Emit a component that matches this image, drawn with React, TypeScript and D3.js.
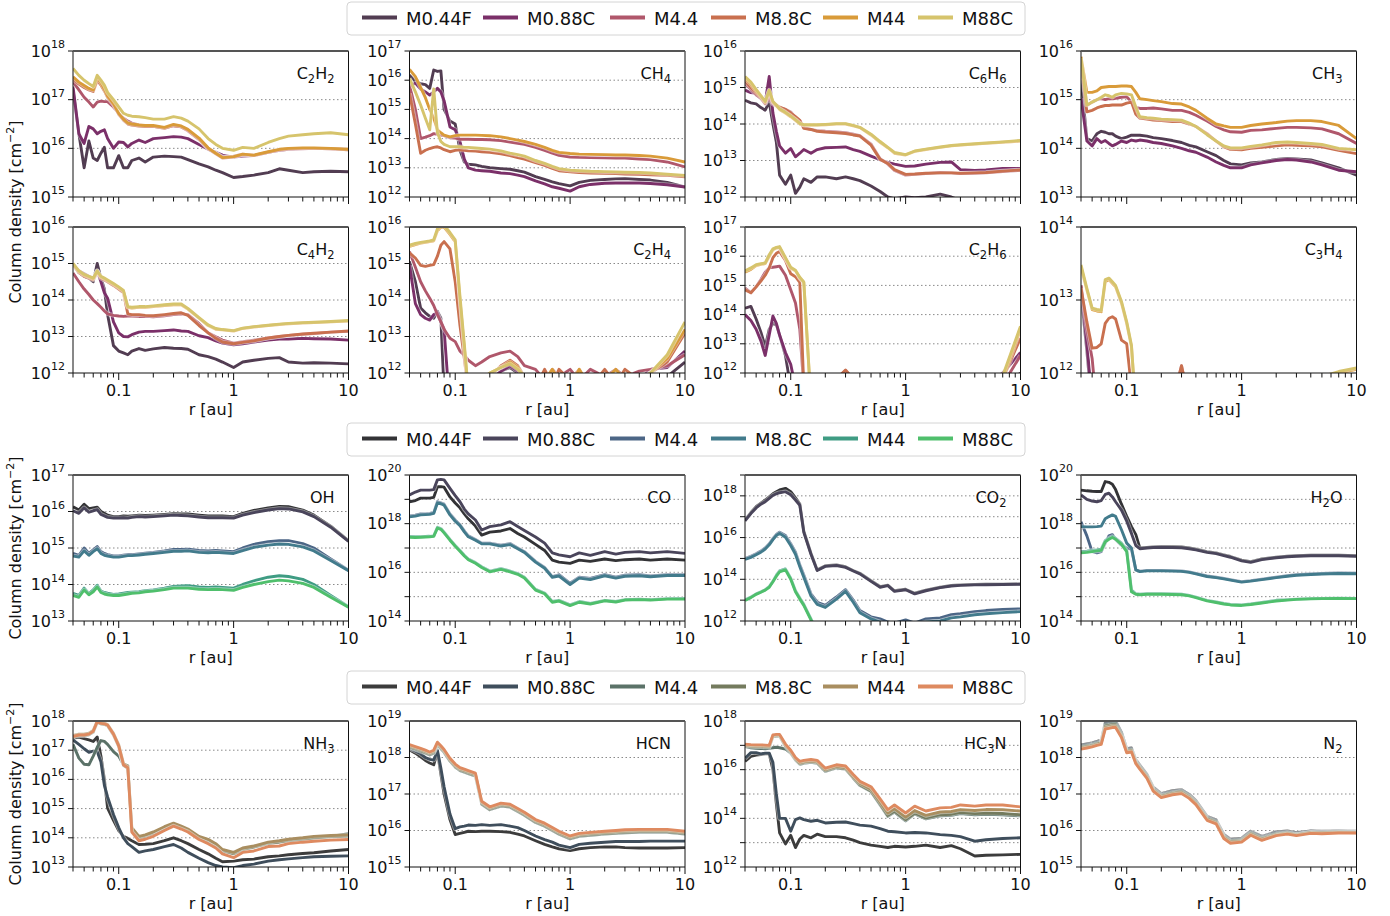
import React from "react";
import * as d3 from "d3";

// ---------- shared data ----------
const R = [0.04, 0.045, 0.05, 0.055, 0.06, 0.065, 0.07, 0.075, 0.08, 0.09, 0.1, 0.11, 0.12, 0.13, 0.15, 0.17, 0.2, 0.25, 0.3, 0.35, 0.4, 0.5, 0.6, 0.7, 0.8, 1.0, 1.2, 1.5, 2, 2.5, 3, 4, 5, 7, 10];
const MODELS = ["M0.44F", "M0.88C", "M4.4", "M8.8C", "M44", "M88C"];
const COLORS_HC = ["#523d52", "#7b3069", "#b0576b", "#c9704f", "#d99b39", "#d6c46c"];
const COLORS_O = ["#333336", "#4a455b", "#4c6686", "#427b8c", "#3f9c83", "#4fbf6c"];
const COLORS_N = ["#3c3c3c", "#3f4e5c", "#5b7268", "#747b5e", "#a98e60", "#de8a60"];
const X_MAJOR = [0.1, 1, 10];
const X_MAJOR_LABELS = ["0.1", "1", "10"];

// ---------- row 1 ----------
const c2h2_a = [17.2,16.3,15.6,16.15,15.8, 15.75,15.9,16.02,15.6,15.6, 15.85,15.6,15.6,15.75,15.8, 15.72,15.82,15.84,15.83,15.82, 15.77,15.68,15.62,15.55,15.5, 15.4,15.42,15.45,15.5,15.58, 15.55,15.5,15.52,15.53,15.52];
const c2h2_b = [17.27,16.3,16.1,16.45,16.4, 16.3,16.35,16.38,16.2,16.0, 16.13,16.12,16.03,16.1,16.17, 16.12,16.2,16.22,16.24,16.23, 16.2,16.08,15.98,15.92,15.86, 15.82,15.84,15.85,15.92,15.96, 15.98,16.0,16.0,16.0,15.98];
const c2h2_c = [17.37,17.2,17.05,16.95,16.85, 16.95,16.97,16.96,16.96,16.85, 16.72,16.62,16.56,16.52,16.48, 16.46,16.45,16.42,16.46,16.44, 16.36,16.18,16.0,15.9,15.82, 15.84,15.88,15.86,15.92,15.96, 15.98,15.99,16.0,15.99,15.97];
const c2h2_d = [17.42,17.32,17.25,17.2,17.17, 17.4,17.3,17.18,17.05,16.9, 16.7,16.58,16.5,16.48,16.46, 16.45,16.45,16.41,16.47,16.44, 16.37,16.19,15.99,15.89,15.8, 15.82,15.87,15.85,15.92,15.97, 15.99,16.0,16.0,15.99,15.97];
const c2h2_e = [17.47,17.36,17.29,17.23,17.2, 17.45,17.35,17.22,17.08,16.92, 16.72,16.6,16.52,16.5,16.48, 16.47,16.47,16.43,16.49,16.46, 16.39,16.21,16.01,15.9,15.81, 15.83,15.88,15.86,15.93,15.98, 16.0,16.01,16.01,16.0,15.98];
const c2h2_f = [17.64,17.5,17.4,17.33,17.27, 17.5,17.4,17.3,17.15,17.0, 16.85,16.72,16.68,16.66,16.65, 16.63,16.6,16.6,16.65,16.62, 16.56,16.4,16.2,16.08,16.0, 15.96,16.02,16.0,16.12,16.2, 16.25,16.28,16.3,16.32,16.28];

const ch4_a = [16.18,15.95,15.88,15.85,15.72, 16.35,16.3,16.32,15.0,14.6, 14.5,13.6,13.2,13.12,13.1, 13.05,13.0,12.97,12.95,12.9, 12.85,12.7,12.6,12.52,12.46, 12.38,12.5,12.57,12.6,12.62, 12.63,12.6,12.58,12.5,12.34];
const ch4_b = [15.78,15.9,15.7,15.6,15.49, 15.6,15.72,15.6,15.3,14.4, 14.3,13.9,13.3,13.0,12.92, 12.9,12.88,12.82,12.8,12.75, 12.7,12.55,12.45,12.35,12.3, 12.2,12.35,12.43,12.47,12.48, 12.48,12.48,12.46,12.42,12.34];
const ch4_c = [15.83,15.0,14.0,14.05,14.1, 14.17,14.15,14.12,14.1,14.03, 14.02,13.98,13.98,13.98,13.97, 13.97,13.96,13.93,13.88,13.84, 13.8,13.7,13.6,13.5,13.43, 13.37,13.36,13.35,13.34,13.33, 13.33,13.3,13.28,13.2,13.03];
const ch4_d = [15.55,14.5,13.5,13.6,13.66, 13.7,13.72,13.68,13.62,13.55, 13.6,13.62,13.6,13.58,13.57, 13.55,13.53,13.48,13.42,13.35, 13.3,13.18,13.08,12.98,12.9, 12.86,12.84,12.82,12.81,12.8, 12.79,12.78,12.76,12.74,12.69];
const ch4_e = [16.37,16.12,15.75,15.4,15.0, 14.7,14.3,14.2,14.12,14.06, 14.1,14.12,14.12,14.12,14.12, 14.11,14.1,14.06,14.0,13.95, 13.9,13.8,13.7,13.6,13.53, 13.49,13.47,13.46,13.45,13.44, 13.44,13.42,13.4,13.33,13.2];
const ch4_f = [16.06,15.6,15.15,14.7,14.3, 15.7,14.2,13.9,13.8,13.72, 13.72,13.72,13.7,13.7,13.68, 13.66,13.64,13.58,13.5,13.45, 13.4,13.25,13.15,13.05,12.97, 12.92,12.9,12.88,12.87,12.86, 12.85,12.84,12.82,12.78,12.74];

const c6h6_a = [14.65,14.58,14.55,14.45,14.38, 14.6,14.0,13.5,12.6,12.35, 12.6,12.1,12.27,12.5,12.4, 12.55,12.55,12.5,12.55,12.5, 12.45,12.3,12.15,12.0,11.95, 12.0,11.98,12.0,12.08,12.0, 11.9,11.85,11.8,11.75,11.7];
const c6h6_b = [14.93,14.86,14.84,14.7,14.6, 15.3,14.3,13.8,13.4,13.2, 13.33,13.1,13.2,13.3,13.2, 13.3,13.35,13.36,13.37,13.3, 13.25,13.12,13.02,12.95,12.9, 12.84,12.85,12.9,12.95,12.96, 12.75,12.73,12.74,12.78,12.78];
const c6h6_c = [15.11,14.95,14.8,14.7,14.55, 14.7,14.55,14.5,14.45,14.4, 14.33,14.18,14.1,13.9,13.85, 13.82,13.8,13.78,13.76,13.72, 13.68,13.45,13.05,12.9,12.73, 12.6,12.62,12.64,12.67,12.66, 12.64,12.65,12.66,12.7,12.73];
const c6h6_d = [15.18,15.0,14.85,14.72,14.57, 14.8,14.58,14.52,14.46,14.4, 14.3,14.2,14.1,13.88,13.85, 13.8,13.78,13.76,13.74,13.7, 13.67,13.42,13.03,12.92,12.75, 12.62,12.63,12.65,12.66,12.66, 12.65,12.66,12.67,12.71,12.74];
const c6h6_e = [15.25,15.1,14.9,14.75,14.6, 14.9,14.6,14.5,14.4,14.3, 14.2,14.1,14.0,13.97,13.97, 13.97,13.98,14.0,14.0,13.95, 13.9,13.7,13.5,13.35,13.2, 13.15,13.25,13.3,13.36,13.4, 13.42,13.45,13.47,13.5,13.53];
const c6h6_f = [15.3,15.15,14.95,14.78,14.62, 14.93,14.62,14.52,14.42,14.32, 14.22,14.12,14.02,13.98,13.98, 13.98,13.99,14.01,14.01,13.96, 13.91,13.72,13.52,13.36,13.22, 13.16,13.26,13.31,13.37,13.41, 13.43,13.46,13.48,13.51,13.55];

const ch3_a = [15.4,14.2,14.15,14.3,14.35, 14.33,14.3,14.3,14.25,14.2, 14.23,14.27,14.27,14.27,14.25, 14.22,14.2,14.16,14.12,14.06, 14.03,13.93,13.85,13.75,13.68, 13.66,13.7,13.72,13.77,13.79, 13.78,13.76,13.7,13.6,13.45];
const ch3_b = [15.03,14.15,14.05,14.2,14.12, 14.16,14.1,14.05,14.08,14.15, 14.12,14.17,14.15,14.17,14.15, 14.12,14.1,14.05,14.0,13.95, 13.92,13.82,13.72,13.65,13.6, 13.6,13.66,13.7,13.75,13.77, 13.76,13.72,13.66,13.55,13.52];
const ch3_c = [15.81,14.88,14.95,15.0,15.02, 15.0,15.02,15.02,15.03,15.05, 15.06,14.95,14.84,14.82,14.82, 14.83,14.81,14.78,14.78,14.74, 14.68,14.56,14.45,14.38,14.34, 14.33,14.37,14.38,14.41,14.43, 14.43,14.42,14.4,14.3,14.1];
const ch3_d = [15.75,14.75,14.78,14.83,14.86, 14.88,14.88,14.89,14.89,14.89, 14.93,14.95,14.7,14.62,14.6, 14.58,14.57,14.55,14.55,14.5, 14.45,14.3,14.15,14.03,13.98, 13.97,14.0,14.02,14.05,14.07, 14.06,14.05,14.03,13.96,13.89];
const ch3_e = [15.88,15.15,15.15,15.18,15.25, 15.26,15.27,15.27,15.27,15.28, 15.28,15.27,15.15,15.02,15.0, 14.98,14.96,14.92,14.91,14.85, 14.78,14.62,14.5,14.46,14.43, 14.43,14.47,14.5,14.53,14.56, 14.57,14.57,14.55,14.47,14.2];
const ch3_f = [15.85,14.89,14.95,15.0,15.05, 15.1,15.08,15.05,15.1,15.13, 15.12,15.1,14.85,14.65,14.63, 14.62,14.6,14.59,14.58,14.52, 14.45,14.28,14.15,14.05,14.01, 14.01,14.04,14.07,14.12,14.13, 14.12,14.1,14.08,14.0,13.97];

// ---------- row 2 ----------
const c4h2_a = [14.97,14.75,14.65,14.6,14.5, 15.0,14.6,14.3,13.6,12.75, 12.6,12.55,12.5,12.6,12.67, 12.62,12.66,12.7,12.68,12.67, 12.65,12.5,12.45,12.38,12.3, 12.15,12.3,12.35,12.4,12.42, 12.3,12.27,12.28,12.27,12.25];
const c4h2_b = [14.97,14.8,14.72,14.65,14.6, 14.8,14.5,14.2,14.05,13.4, 13.1,13.0,12.99,13.05,13.12, 13.14,13.14,13.16,13.18,13.15, 13.14,13.02,12.97,12.88,12.82, 12.77,12.8,12.85,12.9,12.93, 12.93,12.95,12.94,12.93,12.9];
const c4h2_c = [14.74,14.5,14.3,14.15,14.0, 13.9,13.8,13.7,13.62,13.58, 13.56,13.55,13.56,13.56,13.55, 13.55,13.54,13.57,13.6,13.62, 13.6,13.35,13.1,12.99,12.9, 12.82,12.86,12.9,12.96,13.0, 13.03,13.06,13.08,13.12,13.14];
const c4h2_d = [14.97,14.75,14.65,14.6,14.55, 14.75,14.6,14.55,14.5,14.4, 14.3,14.2,13.62,13.6,13.6, 13.58,13.57,13.6,13.63,13.65, 13.58,13.3,13.1,12.95,12.85, 12.8,12.84,12.88,12.96,13.0, 13.03,13.07,13.09,13.12,13.15];
const c4h2_e = [14.98,14.78,14.68,14.63,14.58, 14.78,14.63,14.58,14.53,14.43, 14.34,14.24,13.8,13.78,13.8, 13.8,13.82,13.85,13.87,13.87, 13.75,13.5,13.3,13.2,13.18, 13.15,13.22,13.26,13.3,13.33, 13.35,13.37,13.38,13.4,13.42];
const c4h2_f = [15.0,14.8,14.7,14.65,14.6, 14.8,14.65,14.6,14.55,14.45, 14.36,14.26,13.82,13.8,13.82, 13.82,13.84,13.87,13.89,13.89, 13.77,13.52,13.32,13.22,13.19, 13.16,13.23,13.27,13.31,13.34, 13.36,13.38,13.39,13.41,13.44];

const c2h4_a = [15.06,14.5,13.78,13.65,13.55, 13.5,13.69,13.5,11.5,11, 11,11,11,11,11, 11.5,11.8,12.05,12.15,12.0, 11.8,11.5,11.5,11.5,11.5, 11.5,11.5,11.5,11.5,11.5, 11.5,11.5,11.7,11.9,12.3];
const c2h4_b = [14.95,13.9,13.6,13.5,13.45, 13.6,13.65,13.4,13.2,11, 11,11,11,11,11, 11.5,11.8,12.05,12.2,12.05, 11.8,11.5,11.6,11.5,11.7, 11.5,11.6,11.5,11.5,11.6, 11.5,11.8,12.1,12.15,12.6];
const c2h4_c = [15.33,14.9,14.5,14.25,14.05, 13.85,13.6,13.4,13.2,12.95, 12.86,12.6,12.49,12.35,12.2, 12.3,12.45,12.55,12.6,12.45, 12.2,12.1,11.8,12.1,11.9, 12.1,11.8,12.1,11.9,12.1, 11.9,12.05,12.1,12.2,12.5];
const c2h4_d = [15.29,15.15,14.95,14.92,14.95, 14.97,15.2,15.5,15.6,15.4, 14.5,13.3,12.4,11.5,11.5, 11.7,11.9,12.2,12.35,12.2, 11.9,11.6,12.1,11.7,12.1, 11.8,12.1,11.6,12.1,11.7, 12.1,11.8,12.0,12.3,13.1];
const c2h4_e = [15.47,15.52,15.56,15.58,15.6, 15.62,15.9,16.0,16.0,15.8, 15.6,14.0,12.7,11.5,11.6, 11.8,12.0,12.15,12.3,12.15, 11.9,11.6,11.8,12.1,11.8, 11.6,12.1,11.6,11.8,12.1, 11.8,11.8,12.0,12.4,13.2];
const c2h4_f = [15.5,15.55,15.58,15.6,15.62, 15.65,15.95,16.05,16.05,15.85, 15.65,14.1,12.8,11.5,11.6, 11.8,12.0,12.15,12.25,12.1, 11.9,11.6,11.7,11.6,11.7, 11.6,11.7,11.6,11.7,11.6, 11.7,11.8,12.0,12.5,13.4];

const c2h6_a = [14.22,14.28,13.85,13.4,12.9, 13.5,13.7,13.65,13.3,12.6, 11.5,11,11,11,11, 11,11,11,11,11, 11,11,11,11,11, 11,11,11,11,11, 11,11,11,11.5,12.0];
const c2h6_b = [14.0,13.8,13.5,13.1,12.6, 13.3,13.95,13.7,13.3,12.7, 12.3,11.5,11,11,11, 11,11,11,11,11, 11,11,11,11,11, 11,11,11,11,11, 11,11,11.5,12.0,12.7];
const c2h6_c = [14.91,14.75,14.95,15.2,15.45, 15.6,15.62,15.64,15.66,15.35, 14.85,14.4,13.5,11.5,11, 11,11,11.8,12.08,11.8, 11,11,11,11,11, 11,11,11,11,11, 11,11,11,11.6,12.6];
const c2h6_d = [14.85,14.75,14.95,15.15,15.35, 15.6,15.95,16.1,16.16,15.85, 15.4,15.3,15.1,11.5,11, 11,11,11.8,12.1,11.8, 11,11,11,11,11, 11,11,11,11,11, 11,11,11,11.8,13.2];
const c2h6_e = [15.45,15.55,15.68,15.72,15.75, 16.0,16.22,16.28,16.3,15.93, 15.59,15.5,15.25,15.1,11, 11,11,11.6,11.9,11.6, 11,11,11,11,11, 11,11,11,11,11, 11,11,11,11.8,13.5];
const c2h6_f = [15.5,15.6,15.71,15.74,15.77, 16.05,16.25,16.3,16.33,15.95, 15.62,15.52,15.28,15.12,11, 11,11,11.5,11.8,11.5, 11,11,11,11,11, 11,11,11,11,11, 11,11,11,11.9,13.6];

const c3h4_a = [13.1,12.3,11.5,11,11, 11,11,11,11,11, 11,11,11,11,11, 11,11,11,11,11, 11,11,11,11,11, 11,11,11,11,11, 11,11,11,11,11];
const c3h4_b = [13.2,12.4,11.6,11,11, 11,11,11,11,11, 11,11,11,11,11, 11,11,11,11,11, 11,11,11,11,11, 11,11,11,11,11, 11,11,11,11,11];
const c3h4_c = [13.2,12.6,12.2,11.5,11, 11,11,11,11,11, 11,11,11,11,11, 11,11,11.6,12.1,11.6, 11,11,11,11,11, 11,11,11,11,11, 11,11,11,11,11];
const c3h4_d = [13.16,12.7,12.34,12.35,12.4, 12.68,12.75,12.77,12.74,12.45, 12.4,11.8,11,11,11, 11,11,11.6,12.1,11.6, 11,11,11,11,11, 11,11,11,11,11, 11,11,11,11,11];
const c3h4_e = [13.45,13.14,12.87,12.85,12.84, 13.25,13.28,13.23,13.18,12.96, 12.68,12.36,11.5,11,11, 11,11,11,11,11, 11,11,11,11,11, 11,11,11,11,11, 11,11,11.9,12.0,12.05];
const c3h4_f = [13.48,13.16,12.89,12.87,12.86, 13.28,13.3,13.25,13.2,12.98, 12.7,12.38,11.5,11,11, 11,11,11,11,11, 11,11,11,11,11, 11,11,11,11,11, 11,11,11.95,12.02,12.07];

// ---------- row 3 ----------
const oh_a = [16.13,16.04,16.2,16.08,16.1, 16.12,16.0,15.95,15.9,15.86, 15.86,15.88,15.87,15.88,15.9, 15.89,15.9,15.92,15.94,15.93, 15.93,15.9,15.88,15.88,15.88, 15.86,15.95,16.03,16.1,16.14, 16.13,16.04,15.9,15.6,15.2];
const oh_b = [16.02,15.95,16.1,15.98,16.02, 16.05,15.92,15.88,15.84,15.82, 15.82,15.83,15.82,15.84,15.86, 15.85,15.86,15.88,15.9,15.89, 15.88,15.85,15.83,15.83,15.83, 15.82,15.9,15.97,16.04,16.08, 16.07,15.99,15.86,15.57,15.18];
const oh_c = [14.85,14.8,15.0,14.85,14.95, 15.04,14.9,14.85,14.82,14.78, 14.78,14.8,14.82,14.82,14.84, 14.86,14.88,14.92,14.96,14.96, 14.97,14.93,14.92,14.93,14.92, 14.9,15.0,15.1,15.17,15.2, 15.2,15.12,15.0,14.7,14.39];
const oh_d = [14.78,14.75,14.92,14.8,14.9, 14.98,14.85,14.8,14.78,14.75, 14.75,14.77,14.79,14.79,14.81, 14.83,14.85,14.88,14.91,14.91, 14.92,14.88,14.87,14.88,14.87, 14.85,14.93,15.02,15.08,15.11, 15.1,15.03,14.92,14.66,14.38];
const oh_e = [13.76,13.7,13.9,13.75,13.85, 13.98,13.82,13.78,13.76,13.73, 13.74,13.76,13.78,13.79,13.8, 13.83,13.85,13.9,13.95,13.96, 13.97,13.93,13.92,13.93,13.92, 13.9,14.0,14.1,14.2,14.24, 14.22,14.14,14.0,13.7,13.39];
const oh_f = [13.7,13.65,13.85,13.72,13.8, 13.93,13.78,13.74,13.72,13.7, 13.7,13.72,13.74,13.76,13.77, 13.8,13.82,13.86,13.9,13.9, 13.9,13.87,13.86,13.87,13.86, 13.84,13.92,14.0,14.08,14.12, 14.1,14.03,13.92,13.65,13.38];

const co_a = [18.9,18.95,19.05,19.05,19.05, 19.08,19.52,19.52,19.5,19.1, 18.85,18.65,18.4,18.2,17.9, 17.53,17.65,17.7,17.8,17.6, 17.45,17.15,16.9,16.5,16.42, 16.37,16.5,16.45,16.55,16.48, 16.52,16.55,16.5,16.55,16.5];
const co_b = [19.18,19.3,19.38,19.38,19.38, 19.4,19.8,19.82,19.8,19.45, 19.15,18.9,18.6,18.4,18.15, 17.74,17.88,17.95,18.08,17.88, 17.72,17.45,17.2,16.8,16.72, 16.64,16.8,16.7,16.85,16.75, 16.82,16.85,16.8,16.85,16.78];
const co_c = [18.32,18.35,18.4,18.4,18.42, 18.45,18.9,18.85,18.8,18.4, 18.15,17.95,17.7,17.5,17.35, 17.2,17.2,17.12,17.18,17.0, 16.85,16.45,16.2,15.82,15.9, 15.55,15.8,15.75,15.9,15.8, 15.88,15.9,15.85,15.9,15.9];
const co_d = [18.28,18.31,18.36,18.37,18.38, 18.42,18.85,18.82,18.76,18.36, 18.1,17.92,17.66,17.46,17.32, 17.17,17.17,17.08,17.14,16.97, 16.82,16.42,16.17,15.8,15.85, 15.5,15.76,15.7,15.86,15.76, 15.84,15.86,15.82,15.87,15.87];
const co_e = [17.47,17.46,17.46,17.47,17.48, 17.5,17.85,17.8,17.65,17.35, 17.1,16.9,16.7,16.55,16.4, 16.23,16.05,16.15,16.05,15.95, 15.8,15.3,15.15,14.8,14.85, 14.66,14.8,14.72,14.85,14.8, 14.88,14.9,14.88,14.92,14.93];
const co_f = [17.44,17.43,17.44,17.45,17.46, 17.48,17.82,17.77,17.62,17.32, 17.07,16.87,16.67,16.52,16.37, 16.2,16.02,16.12,16.02,15.92, 15.77,15.27,15.12,14.77,14.82, 14.63,14.77,14.7,14.83,14.78, 14.86,14.88,14.86,14.9,14.9];

const co2_a = [16.84,17.2,17.48,17.65,17.8, 17.95,18.1,18.2,18.28,18.36, 18.2,17.9,17.6,16.3,15.25, 14.45,14.65,14.69,14.6,14.42, 14.29,13.93,13.65,13.72,13.45, 13.52,13.33,13.48,13.62,13.7, 13.73,13.75,13.76,13.77,13.78];
const co2_b = [16.8,17.15,17.42,17.6,17.72, 17.88,18.02,18.1,18.15,18.2, 18.05,17.8,17.55,16.25,15.2, 14.42,14.62,14.66,14.57,14.4, 14.26,13.9,13.62,13.7,13.42, 13.5,13.3,13.45,13.6,13.68, 13.71,13.73,13.74,13.75,13.76];
const co2_c = [15.0,15.1,15.22,15.35,15.5, 15.7,15.95,16.15,16.26,16.1, 15.7,15.3,14.7,14.2,13.3, 12.9,12.75,13.15,13.5,13.0, 12.5,12.2,12.1,11.95,11.9, 12.05,11.9,12.1,12.15,12.3, 12.35,12.45,12.5,12.55,12.58];
const co2_d = [14.95,15.05,15.18,15.3,15.45, 15.65,15.9,16.1,16.2,16.02, 15.62,15.2,14.6,14.1,13.2, 12.8,12.65,13.05,13.42,12.9, 12.4,12.1,11.95,11.8,11.8, 11.9,11.8,11.95,12.0,12.15, 12.2,12.3,12.35,12.4,12.45];
const co2_e = [13.01,13.15,13.3,13.4,13.5, 13.65,13.9,14.2,14.4,14.5, 14.05,13.45,13.1,12.8,12.1, 11.5,11,11,11,11, 11,11,11,11,11, 11,11,11,11,11, 11,11,11,11,11];
const co2_f = [12.98,13.12,13.28,13.38,13.48, 13.62,13.88,14.15,14.35,14.45, 14.0,13.4,13.05,12.75,12.05, 11.5,11,11,11,11, 11,11,11,11,11, 11,11,11,11,11, 11,11,11,11,11];

const h2o_a = [19.38,19.35,19.33,19.32,19.32, 19.73,19.7,19.62,19.4,18.8, 18.3,17.88,17.55,17.0,17.02, 17.04,17.05,17.05,17.04,17.0, 16.95,16.85,16.8,16.72,16.65, 16.5,16.44,16.55,16.62,16.66, 16.68,16.7,16.7,16.7,16.68];
const h2o_b = [19.18,19.0,18.93,18.9,18.95, 19.2,19.25,19.1,18.9,18.56, 18.1,17.6,17.1,16.97,17.0, 17.02,17.03,17.02,17.01,16.97, 16.92,16.82,16.77,16.69,16.62, 16.47,16.41,16.52,16.6,16.64, 16.66,16.68,16.68,16.68,16.66];
const h2o_c = [18.08,17.5,16.85,16.8,16.85, 17.2,17.5,17.55,17.35,17.12, 17.0,16.95,16.1,16.05,16.08, 16.08,16.08,16.07,16.06,16.02, 15.96,15.85,15.8,15.75,15.7, 15.62,15.66,15.72,15.8,15.86, 15.9,15.93,15.95,15.97,15.96];
const h2o_d = [17.88,17.87,17.87,17.88,17.9, 18.2,18.29,18.36,18.3,17.75, 17.2,17.0,16.1,16.03,16.06, 16.06,16.06,16.05,16.04,16.0, 15.94,15.83,15.78,15.73,15.68, 15.6,15.64,15.7,15.78,15.84, 15.88,15.91,15.93,15.95,15.94];
const h2o_e = [16.85,16.87,16.9,16.92,16.95, 17.3,17.4,17.47,17.4,17.2, 16.9,15.27,15.12,15.1,15.12, 15.12,15.12,15.11,15.1,15.05, 14.98,14.85,14.78,14.72,14.68, 14.66,14.7,14.76,14.85,14.88, 14.9,14.92,14.93,14.94,14.93];
const h2o_f = [16.8,16.82,16.85,16.88,16.9, 17.25,17.36,17.43,17.36,17.15, 16.85,15.2,15.1,15.08,15.1, 15.1,15.1,15.09,15.08,15.03, 14.96,14.83,14.76,14.7,14.66, 14.64,14.68,14.74,14.82,14.86, 14.89,14.91,14.92,14.93,14.92];

// ---------- row 4 ----------
const nh3_a = [17.41,17.45,17.4,17.35,17.3, 17.45,16.8,16.0,15.02,14.6, 14.25,14.05,13.98,13.9,13.77, 13.78,13.8,13.9,14.0,13.9, 13.8,13.6,13.45,13.3,13.18, 13.2,13.25,13.27,13.35,13.38, 13.42,13.46,13.49,13.55,13.6];
const nh3_b = [17.35,17.2,17.05,16.93,16.97, 16.95,16.6,15.8,15.4,14.8, 14.35,14.0,13.8,13.7,13.5, 13.55,13.6,13.7,13.77,13.65, 13.5,13.3,13.15,13.05,13.0, 12.98,13.05,13.1,13.2,13.25, 13.28,13.32,13.35,13.37,13.38];
const nh3_c = [17.2,16.73,16.52,16.5,16.8, 17.1,17.33,17.3,17.2,16.95, 16.8,16.5,16.47,14.25,14.0, 14.05,14.15,14.33,14.45,14.35, 14.25,14.0,13.9,13.75,13.55, 13.45,13.6,13.68,13.8,13.85, 13.9,13.95,13.98,14.05,14.14];
const nh3_d = [17.45,17.5,17.5,17.53,17.62, 17.95,17.9,17.88,17.84,17.52, 17.12,16.48,16.38,14.3,14.0, 14.05,14.15,14.33,14.45,14.35, 14.25,14.0,13.9,13.75,13.55, 13.45,13.6,13.68,13.8,13.85, 13.9,13.95,14.0,14.03,14.05];
const nh3_e = [17.5,17.55,17.55,17.58,17.68, 18.0,17.95,17.93,17.88,17.58, 17.18,16.55,16.45,14.35,14.05, 14.1,14.2,14.38,14.5,14.4, 14.3,14.05,13.95,13.8,13.6, 13.5,13.65,13.72,13.85,13.9, 13.95,14.0,14.05,14.08,14.1];
const nh3_f = [17.47,17.52,17.52,17.55,17.65, 17.98,17.92,17.9,17.86,17.55, 17.15,16.5,16.4,14.2,13.9, 13.95,14.05,14.25,14.4,14.3, 14.2,13.94,13.8,13.65,13.45, 13.32,13.5,13.55,13.7,13.72, 13.8,13.85,13.88,13.92,13.94];

const hcn_a = [18.21,18.12,18.02,17.92,17.85, 17.8,18.15,17.55,17.0,16.3, 15.89,15.92,15.95,15.98,15.97, 15.98,15.98,15.97,15.95,15.9, 15.85,15.72,15.62,15.55,15.5, 15.45,15.5,15.53,15.55,15.55, 15.53,15.52,15.52,15.52,15.53];
const hcn_b = [18.25,18.18,18.1,18.0,17.95, 17.93,18.2,17.71,17.2,16.45, 16.05,16.1,16.12,16.15,16.14, 16.16,16.14,16.16,16.12,16.08, 16.0,15.85,15.75,15.68,15.6, 15.53,15.62,15.65,15.68,15.7, 15.7,15.7,15.71,15.71,15.71];
const hcn_c = [18.27,18.22,18.17,18.12,18.07, 18.12,18.34,18.24,18.14,17.9, 17.74,17.64,17.6,17.56,17.49, 16.72,16.57,16.67,16.64,16.52, 16.42,16.22,16.12,16.0,15.9, 15.77,15.84,15.87,15.9,15.92, 15.94,15.95,15.95,15.95,15.9];
const hcn_d = [18.29,18.24,18.19,18.14,18.09, 18.14,18.36,18.26,18.16,17.92, 17.76,17.66,17.62,17.58,17.51, 16.74,16.59,16.69,16.66,16.54, 16.44,16.24,16.14,16.02,15.92, 15.79,15.86,15.89,15.92,15.94, 15.96,15.97,15.97,15.97,15.92];
const hcn_e = [18.32,18.27,18.22,18.17,18.12, 18.17,18.39,18.29,18.19,17.95, 17.79,17.69,17.65,17.61,17.54, 16.77,16.62,16.72,16.69,16.57, 16.47,16.27,16.17,16.05,15.95, 15.82,15.89,15.92,15.95,15.97, 15.99,16.0,16.0,16.0,15.95];
const hcn_f = [18.35,18.3,18.25,18.2,18.15, 18.2,18.42,18.32,18.22,17.98, 17.82,17.72,17.68,17.64,17.57, 16.8,16.65,16.75,16.72,16.6, 16.5,16.3,16.2,16.08,15.98, 15.85,15.92,15.95,15.98,16.0, 16.02,16.03,16.03,16.03,15.98];

const hc3n_a = [16.34,16.55,16.6,16.62,16.65, 16.65,16.0,14.6,13.4,12.95, 13.3,12.8,13.15,13.3,13.2, 13.35,13.25,13.25,13.2,13.1, 13.0,12.9,12.85,12.8,12.85, 12.82,12.85,12.9,12.8,12.88, 12.75,12.45,12.48,12.5,12.52];
const hc3n_b = [16.47,16.7,16.7,16.65,16.68, 16.68,16.3,15.0,14.0,14.0, 13.47,13.95,14.02,13.95,13.88, 13.92,13.81,13.84,13.85,13.78, 13.72,13.68,13.58,13.47,13.45, 13.4,13.42,13.4,13.33,13.3, 13.25,13.06,13.12,13.17,13.2];
const hc3n_c = [16.95,16.9,16.88,16.87,16.86, 16.88,16.9,16.92,16.9,16.85, 16.68,16.4,16.22,16.26,16.3, 16.26,15.93,16.07,16.02,15.65, 15.35,15.1,14.55,14.08,14.26, 13.9,14.18,13.98,14.1,14.12, 14.2,14.15,14.17,14.15,14.1];
const hc3n_d = [16.97,16.95,16.94,16.94,16.93, 16.92,17.36,17.38,17.38,16.96, 16.72,16.42,16.25,16.29,16.33, 16.29,15.96,16.1,16.05,15.68, 15.38,15.12,14.6,14.12,14.3, 13.95,14.22,14.02,14.15,14.17, 14.25,14.2,14.22,14.2,14.15];
const hc3n_e = [17.0,16.98,16.97,16.97,16.96, 16.95,17.4,17.42,17.42,17.0, 16.75,16.45,16.28,16.32,16.36, 16.32,16.0,16.14,16.09,15.72, 15.44,15.2,14.68,14.22,14.4, 14.05,14.32,14.12,14.26,14.28, 14.36,14.32,14.36,14.35,14.3];
const hc3n_f = [17.05,17.03,17.02,17.02,17.01, 17.0,17.43,17.45,17.45,17.05, 16.8,16.5,16.34,16.38,16.42, 16.38,16.06,16.2,16.15,15.8, 15.52,15.3,14.8,14.36,14.55, 14.22,14.5,14.3,14.43,14.45, 14.55,14.5,14.55,14.55,14.47];

const n2_a = [18.34,18.37,18.4,18.44,18.47, 18.95,18.97,18.99,19.0,18.69, 18.24,18.26,17.94,17.79,17.54, 17.19,17.01,17.09,17.12,16.99, 16.82,16.39,16.29,15.89,15.76, 15.79,15.98,15.84,15.96,15.99, 15.94,15.99,15.98,15.99,15.98];
const n2_b = [18.32,18.35,18.38,18.42,18.45, 18.92,18.94,18.96,18.97,18.67, 18.22,18.24,17.92,17.77,17.52, 17.17,16.99,17.07,17.1,16.97, 16.8,16.37,16.27,15.87,15.74, 15.77,15.96,15.82,15.94,15.97, 15.92,15.98,15.97,15.98,15.97];
const n2_c = [18.3,18.33,18.36,18.4,18.43, 18.89,18.91,18.93,18.94,18.64, 18.2,18.22,17.9,17.75,17.5, 17.15,16.97,17.05,17.08,16.95, 16.78,16.35,16.25,15.85,15.72, 15.75,15.94,15.8,15.92,15.95, 15.9,15.96,15.95,15.97,15.96];
const n2_d = [18.28,18.31,18.34,18.38,18.41, 18.86,18.88,18.9,18.9,18.61, 18.18,18.2,17.88,17.73,17.48, 17.13,16.95,17.03,17.06,16.93, 16.76,16.33,16.23,15.83,15.7, 15.73,15.92,15.78,15.9,15.93, 15.89,15.95,15.94,15.96,15.95];
const n2_e = [18.26,18.29,18.32,18.36,18.39, 18.82,18.84,18.86,18.86,18.58, 18.16,18.18,17.86,17.71,17.46, 17.11,16.93,17.01,17.04,16.91, 16.74,16.31,16.21,15.81,15.68, 15.71,15.9,15.76,15.88,15.92, 15.88,15.94,15.93,15.95,15.94];
const n2_f = [18.23,18.26,18.29,18.33,18.36, 18.78,18.8,18.82,18.82,18.55, 18.13,18.15,17.83,17.68,17.43, 17.08,16.9,16.98,17.01,16.88, 16.71,16.28,16.18,15.78,15.65, 15.68,15.87,15.73,15.86,15.9, 15.86,15.92,15.91,15.93,15.93];

// ---------- panel table ----------
const PANELS = [
  { name: "C2H2", row: 0, col: 0, lo: 15, hi: 18, step: 1, pal: COLORS_HC, data: [c2h2_a, c2h2_b, c2h2_c, c2h2_d, c2h2_e, c2h2_f] },
  { name: "CH4", row: 0, col: 1, lo: 12, hi: 17, step: 1, pal: COLORS_HC, data: [ch4_a, ch4_b, ch4_c, ch4_d, ch4_e, ch4_f] },
  { name: "C6H6", row: 0, col: 2, lo: 12, hi: 16, step: 1, pal: COLORS_HC, data: [c6h6_a, c6h6_b, c6h6_c, c6h6_d, c6h6_e, c6h6_f] },
  { name: "CH3", row: 0, col: 3, lo: 13, hi: 16, step: 1, pal: COLORS_HC, data: [ch3_a, ch3_b, ch3_c, ch3_d, ch3_e, ch3_f] },
  { name: "C4H2", row: 1, col: 0, lo: 12, hi: 16, step: 1, pal: COLORS_HC, data: [c4h2_a, c4h2_b, c4h2_c, c4h2_d, c4h2_e, c4h2_f] },
  { name: "C2H4", row: 1, col: 1, lo: 12, hi: 16, step: 1, pal: COLORS_HC, data: [c2h4_a, c2h4_b, c2h4_c, c2h4_d, c2h4_e, c2h4_f] },
  { name: "C2H6", row: 1, col: 2, lo: 12, hi: 17, step: 1, pal: COLORS_HC, data: [c2h6_a, c2h6_b, c2h6_c, c2h6_d, c2h6_e, c2h6_f] },
  { name: "C3H4", row: 1, col: 3, lo: 12, hi: 14, step: 1, pal: COLORS_HC, data: [c3h4_a, c3h4_b, c3h4_c, c3h4_d, c3h4_e, c3h4_f] },
  { name: "OH", row: 2, col: 0, lo: 13, hi: 17, step: 1, pal: COLORS_O, data: [oh_a, oh_b, oh_c, oh_d, oh_e, oh_f] },
  { name: "CO", row: 2, col: 1, lo: 14, hi: 20, step: 2, pal: COLORS_O, data: [co_a, co_b, co_c, co_d, co_e, co_f] },
  { name: "CO2", row: 2, col: 2, lo: 12, hi: 19, step: 2, pal: COLORS_O, data: [co2_a, co2_b, co2_c, co2_d, co2_e, co2_f] },
  { name: "H2O", row: 2, col: 3, lo: 14, hi: 20, step: 2, pal: COLORS_O, data: [h2o_a, h2o_b, h2o_c, h2o_d, h2o_e, h2o_f] },
  { name: "NH3", row: 3, col: 0, lo: 13, hi: 18, step: 1, pal: COLORS_N, data: [nh3_a, nh3_b, nh3_c, nh3_d, nh3_e, nh3_f] },
  { name: "HCN", row: 3, col: 1, lo: 15, hi: 19, step: 1, pal: COLORS_N, data: [hcn_a, hcn_b, hcn_c, hcn_d, hcn_e, hcn_f] },
  { name: "HC3N", row: 3, col: 2, lo: 12, hi: 18, step: 2, pal: COLORS_N, data: [hc3n_a, hc3n_b, hc3n_c, hc3n_d, hc3n_e, hc3n_f] },
  { name: "N2", row: 3, col: 3, lo: 15, hi: 19, step: 1, pal: COLORS_N, data: [n2_a, n2_b, n2_c, n2_d, n2_e, n2_f] },
];

// ---------- layout ----------
const COL_X = [73, 409.5, 745, 1081];
const ROW_Y = [51, 227, 475, 721];
const PW = 275.5;
const PH = 146;
const FONT = "DejaVu Sans";
const LEG_Y = [2, 423, 671];
const LEG_PALS = [COLORS_HC, COLORS_O, COLORS_N];
const LEG_ITEM_X = [362, 483, 610, 711, 823, 918];

function Formula({ text, x, y }: { text: string; x: number; y: number }) {
  const parts = text.match(/[A-Za-z]+|\d+/g) || [];
  let sub = false;
  const spans = parts.map((p, i) => {
    const isNum = /\d/.test(p);
    let dy = 0;
    if (isNum && !sub) { dy = 4; sub = true; }
    else if (!isNum && sub) { dy = -4; sub = false; }
    return (
      <tspan key={i} dy={dy} fontSize={isNum ? 11.5 : 16}>{p}</tspan>
    );
  });
  return (
    <text x={x} y={y} textAnchor="end" fontFamily={FONT} fill="#111">{spans}</text>
  );
}

function Panel({ p }: { p: any }) {
  const x0 = COL_X[p.col];
  const y0 = ROW_Y[p.row];
  const xs = d3.scaleLog().domain([0.04, 10]).range([x0, x0 + PW]);
  const ys = d3.scaleLog().domain([Math.pow(10, p.lo), Math.pow(10, p.hi)]).range([y0 + PH, y0]);
  const line = d3.line<number>()
    .x((_, i) => xs(R[i]))
    .y((v) => ys(Math.pow(10, v)));
  const clipId = `clip-${p.name}`;
  const decades = d3.range(p.lo, p.hi + 1);
  const xTicks = xs.ticks();
  const bottom = y0 + PH;
  const showXLabels = p.row > 0;
  return (
    <g>
      <defs>
        <clipPath id={clipId}>
          <rect x={x0} y={y0} width={PW} height={PH} />
        </clipPath>
      </defs>
      {decades.filter((e) => e > p.lo && e < p.hi).map((e) => (
        <line key={"g" + e} x1={x0} x2={x0 + PW} y1={ys(Math.pow(10, e))} y2={ys(Math.pow(10, e))}
          stroke="#8a8a8a" strokeWidth={1} strokeDasharray="1.5,2.5" />
      ))}
      <g clipPath={`url(#${clipId})`}>
        {p.data.map((arr: number[], k: number) => {
          const d = line(arr.slice(0, R.length)) || "";
          return (
            <g key={k}>
              <path d={d} fill="none" stroke="#ffffff" strokeOpacity={0.45} strokeWidth={4.6} strokeLinejoin="round" />
              <path d={d} fill="none" stroke={p.pal[k]} strokeWidth={2.9} strokeLinejoin="round" />
            </g>
          );
        })}
      </g>
      {/* spines */}
      <line x1={x0} x2={x0} y1={y0} y2={bottom} stroke="#111" strokeWidth={1} />
      <line x1={x0 + PW} x2={x0 + PW} y1={y0} y2={bottom} stroke="#111" strokeWidth={1} />
      <line x1={x0} x2={x0 + PW} y1={bottom} y2={bottom} stroke="#111" strokeWidth={1} />
      <line x1={x0} x2={x0 + PW} y1={y0} y2={y0} stroke="#555" strokeWidth={1.8} />
      {/* x ticks */}
      {xTicks.map((t, i) => {
        const major = X_MAJOR.some((m) => Math.abs(m - t) < 1e-9);
        return (
          <line key={"xt" + i} x1={xs(t)} x2={xs(t)} y1={bottom} y2={bottom + (major ? 7 : 4.5)} stroke="#111" strokeWidth={1} />
        );
      })}
      {showXLabels && X_MAJOR.map((t, i) => (
        <text key={"xl" + i} x={xs(t)} y={bottom + 23} textAnchor="middle" fontFamily={FONT} fontSize={16} fill="#111">{X_MAJOR_LABELS[i]}</text>
      ))}
      {showXLabels && (
        <text x={x0 + PW / 2} y={bottom + 42} textAnchor="middle" fontFamily={FONT} fontSize={16} fill="#111">r [au]</text>
      )}
      {/* y ticks */}
      {decades.map((e) => (
        <line key={"yt" + e} x1={x0 - 5} x2={x0} y1={ys(Math.pow(10, e))} y2={ys(Math.pow(10, e))} stroke="#111" strokeWidth={1} />
      ))}
      {decades.filter((e) => (e - p.lo) % p.step === 0).map((e) => (
        <text key={"yl" + e} x={x0 - 8} y={ys(Math.pow(10, e)) + 5.5} textAnchor="end" fontFamily={FONT} fontSize={16} fill="#111">
          10<tspan dy={-8.5} fontSize={11}>{String(e)}</tspan>
        </text>
      ))}
      <Formula text={p.name} x={x0 + PW - 14} y={y0 + 28} />
    </g>
  );
}

function Legend({ y, pal }: { y: number; pal: string[] }) {
  return (
    <g>
      <rect x={347} y={y} width={678} height={33} rx={4} fill="#fff" stroke="#d4d4d4" strokeWidth={1} />
      {MODELS.map((m, i) => (
        <g key={m}>
          <line x1={LEG_ITEM_X[i]} x2={LEG_ITEM_X[i] + 35} y1={y + 15.5} y2={y + 15.5} stroke={pal[i]} strokeWidth={3.8} />
          <text x={LEG_ITEM_X[i] + 44} y={y + 22.5} fontFamily={FONT} fontSize={18} fill="#111">{m}</text>
        </g>
      ))}
    </g>
  );
}

function YLabel({ cy }: { cy: number }) {
  return (
    <text transform={`translate(21,${cy}) rotate(-90)`} textAnchor="middle" fontFamily={FONT} fontSize={16} fill="#111">
      Column density [cm<tspan dy={-7} fontSize={11}>−2</tspan><tspan dy={7}>]</tspan>
    </text>
  );
}

export default function App() {
  return (
    <svg width={1390} height={916} style={{ position: "absolute", left: 0, top: 0, background: "#fff" }}>
      <rect x={0} y={0} width={1390} height={916} fill="#fff" />
      {PANELS.map((p) => <Panel key={p.name} p={p} />)}
      {LEG_Y.map((y, i) => <Legend key={i} y={y} pal={LEG_PALS[i]} />)}
      <YLabel cy={(ROW_Y[0] + ROW_Y[1] + PH) / 2} />
      <YLabel cy={ROW_Y[2] + PH / 2} />
      <YLabel cy={ROW_Y[3] + PH / 2} />
    </svg>
  );
}
